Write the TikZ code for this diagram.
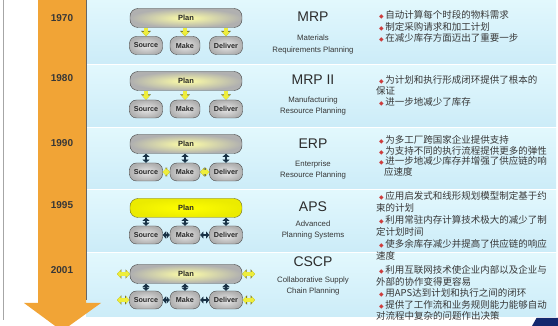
\documentclass[tikz,border=0pt]{standalone}
\usepackage{fontspec}
\setmainfont{Liberation Sans}
\newfontfamily\cjk{Noto Sans CJK SC}
\newfontfamily\djv{DejaVu Sans}
\usetikzlibrary{arrows.meta}
\definecolor{orangebar}{RGB}{241,164,54}
\definecolor{bandtop}{RGB}{226,248,253}
\definecolor{bandbot}{RGB}{204,236,248}
\definecolor{txtgray}{RGB}{55,55,55}
\definecolor{bulletred}{RGB}{205,60,60}
\definecolor{darkconn}{RGB}{25,50,70}
\definecolor{ylw}{RGB}{238,238,60}
\definecolor{ylwline}{RGB}{110,110,40}
\definecolor{logonavy}{RGB}{20,40,110}
\newcommand{\dia}{{\djv\fontsize{6}{6}\selectfont\color{bulletred}◆}}
\begin{document}
\begin{tikzpicture}[x=1pt,y=-1pt,
  band/.style={top color=bandtop,bottom color=bandbot,draw=none},
  year/.style={font=\bfseries\fontsize{10}{10}\selectfont,text=txtgray},
  planbox/.style={rounded corners=8pt,minimum width=112pt,minimum height=19pt,inner sep=0pt,
    inner color=yellow!35!white,outer color=gray!62,draw=gray!55!black,line width=0.4pt,
    font=\fontsize{7.5}{7.5}\selectfont\bfseries,text=black!85},
  planhl/.style={planbox,inner color=yellow,outer color=yellow!92!black,draw=ylwline},
  subbox/.style={rounded corners=7pt,minimum height=18pt,inner sep=0pt,
    inner color=gray!18,outer color=gray!62,draw=gray!55!black,line width=0.4pt,
    font=\fontsize{7.2}{7.2}\selectfont\bfseries,text=black!85},
  title/.style={font=\fontsize{14}{14}\selectfont,text=txtgray!80!black},
  subt/.style={font=\fontsize{7.8}{11.5}\selectfont,align=center,text=txtgray},
  bl/.style={anchor=west,inner sep=0pt,font=\cjk\fontsize{9.5}{12}\selectfont,text=txtgray},
  ydown/.style={draw=ylw,line width=3.4pt,-{Triangle[width=8pt,length=4.5pt]},
    preaction={draw=ylwline,line width=4.6pt,-{Triangle[width=9.6pt,length=5.5pt]}}},
  ydbl/.style={draw=ylw,line width=3.2pt,{Triangle[width=7.5pt,length=3.5pt]}-{Triangle[width=7.5pt,length=3.5pt]},
    preaction={draw=ylwline,line width=4.4pt,{Triangle[width=9pt,length=4.3pt]}-{Triangle[width=9pt,length=4.3pt]}}},
  dkdbl/.style={draw=darkconn,line width=2.8pt,{Triangle[width=7pt,length=3.2pt]}-{Triangle[width=7pt,length=3.2pt]}}
]
\useasboundingbox (0,0) rectangle (558,326);
\clip (0,0) rectangle (558,326);
\fill[white] (0,0) rectangle (558,326);

% bands
\fill[band] (86,0) rectangle (556,63.5);
\fill[band] (86,65.5) rectangle (556,126.5);
\fill[band] (86,128.5) rectangle (556,189);
\fill[band] (86,191) rectangle (556,251.5);
\fill[band] (86,253.5) rectangle (556,317);

% left frame line
\draw[gray!70,line width=0.8pt] (3,0) -- (3,320);

% orange timeline arrow
\fill[orangebar] (38,0) -- (86,0) -- (86,303) -- (101,303) -- (62,331) -- (24,303) -- (38,303) -- cycle;
\draw[black!60,line width=1.4pt] (86.5,0) -- (86.5,300);

% logo fragment
\fill[logonavy] (532,326) -- (536.5,318) -- (558,318) -- (558,326) -- cycle;

% years
\node[year] (y1) at (62,18) {1970};
\node[year] (y2) at (62,78) {1980};
\node[year] (y3) at (62,143) {1990};
\node[year] (y4) at (62,205) {1995};
\node[year] (y5) at (62,270) {2001};

% ---- row 1
\node[planbox] (p1) at (186,18) {Plan};
\node[subbox,minimum width=33pt] (s1) at (146,45.5) {Source};
\node[subbox,minimum width=30pt] (m1) at (185,45.5) {Make};
\node[subbox,minimum width=33pt] (d1) at (226,45.5) {Deliver};
\draw[ydown] (p1.south -| s1.north) -- (s1.north);
\draw[ydown] (p1.south -| m1.north) -- (m1.north);
\draw[ydown] (p1.south -| d1.north) -- (d1.north);

% ---- row 2
\node[planbox] (p2) at (186,81) {Plan};
\node[subbox,minimum width=33pt] (s2) at (146,109) {Source};
\node[subbox,minimum width=30pt] (m2) at (185,109) {Make};
\node[subbox,minimum width=33pt] (d2) at (226,109) {Deliver};
\draw[ydown] (p2.south -| s2.north) -- (s2.north);
\draw[ydown] (p2.south -| m2.north) -- (m2.north);
\draw[ydown] (p2.south -| d2.north) -- (d2.north);

% ---- row 3
\node[planbox] (p3) at (186,144) {Plan};
\node[subbox,minimum width=33pt] (s3) at (146,172) {Source};
\node[subbox,minimum width=30pt] (m3) at (185,172) {Make};
\node[subbox,minimum width=33pt] (d3) at (226,172) {Deliver};
\draw[dkdbl] (p3.south -| s3.north) -- (s3.north);
\draw[dkdbl] (p3.south -| m3.north) -- (m3.north);
\draw[dkdbl] (p3.south -| d3.north) -- (d3.north);
\draw[ydbl] (s3.east) -- (m3.west);
\draw[ydbl] (m3.east) -- (d3.west);

% ---- row 4
\node[planhl] (p4) at (186,208) {Plan};
\node[subbox,minimum width=33pt] (s4) at (146,235) {Source};
\node[subbox,minimum width=30pt] (m4) at (185,235) {Make};
\node[subbox,minimum width=33pt] (d4) at (226,235) {Deliver};
\draw[dkdbl] (p4.south -| s4.north) -- (s4.north);
\draw[dkdbl] (p4.south -| m4.north) -- (m4.north);
\draw[dkdbl] (p4.south -| d4.north) -- (d4.north);
\draw[dkdbl] (s4.east) -- (m4.west);
\draw[dkdbl] (m4.east) -- (d4.west);

% ---- row 5
\node[planbox] (p5) at (186,274) {Plan};
\node[subbox,minimum width=33pt] (s5) at (146,300) {Source};
\node[subbox,minimum width=30pt] (m5) at (185,300) {Make};
\node[subbox,minimum width=33pt] (d5) at (226,300) {Deliver};
\draw[dkdbl] (p5.south -| s5.north) -- (s5.north);
\draw[dkdbl] (p5.south -| m5.north) -- (m5.north);
\draw[dkdbl] (p5.south -| d5.north) -- (d5.north);
\draw[dkdbl] (s5.east) -- (m5.west);
\draw[dkdbl] (m5.east) -- (d5.west);
\coordinate (lp5) at (117,274);
\coordinate (rp5) at (255,274);
\coordinate (ls5) at (117,300);
\coordinate (rd5) at (255,300);
\draw[ydbl] (lp5) -- (p5.west);
\draw[ydbl] (p5.east) -- (rp5);
\draw[ydbl] (ls5) -- (s5.west);
\draw[ydbl] (d5.east) -- (rd5);

% titles
\node[title] (t1) at (313,17) {MRP};
\node[subt] (u1) at (313,44.5) {Materials\\Requirements Planning};
\node[title] (t2) at (313,80) {MRP II};
\node[subt] (u2) at (313,106) {Manufacturing\\Resource Planning};
\node[title] (t3) at (313,144) {ERP};
\node[subt] (u3) at (313,170) {Enterprise\\Resource Planning};
\node[title] (t4) at (313,207) {APS};
\node[subt] (u4) at (313,230) {Advanced\\Planning Systems};
\node[title] (t5) at (313,262) {CSCP};
\node[subt] (u5) at (313,286) {Collaborative Supply\\Chain Planning};

% bullets row 1
\node[bl] (b11) at (379,15) {\dia\,自动计算每个时段的物料需求};
\node[bl] (b12) at (379,26.5) {\dia\,制定采购请求和加工计划};
\node[bl] (b13) at (379,38) {\dia\,在减少库存方面迈出了重要一步};
% row 2
\node[bl] (b21) at (379,80) {\dia\,为计划和执行形成闭环提供了根本的};
\node[bl] (b22) at (376,91) {保证};
\node[bl] (b23) at (379,102) {\dia\,进一步地减少了库存};
% row 3
\node[bl] (b31) at (379,140) {\dia\,为多工厂跨国家企业提供支持};
\node[bl] (b32) at (379,150.5) {\dia\,为支持不同的执行流程提供更多的弹性};
\node[bl] (b33) at (379,161) {\dia\,进一步地减少库存并增强了供应链的响};
\node[bl] (b34) at (384,171.5) {应速度};
% row 4
\node[bl] (b41) at (379,196) {\dia\,应用启发式和线形规划模型制定基于约};
\node[bl] (b42) at (376,208) {束的计划};
\node[bl] (b43) at (379,220) {\dia\,利用常驻内存计算技术极大的减少了制};
\node[bl] (b44) at (376,232) {定计划时间};
\node[bl] (b45) at (379,244) {\dia\,使多余库存减少并提高了供应链的响应};
\node[bl] (b46) at (376,256) {速度};
% row 5
\node[bl] (b51) at (379,270) {\dia\,利用互联网技术使企业内部以及企业与};
\node[bl] (b52) at (376,281.5) {外部的协作变得更容易};
\node[bl] (b53) at (379,293) {\dia\,用APS达到计划和执行之间的闭环};
\node[bl] (b54) at (379,304.5) {\dia\,提供了工作流和业务规则能力能够自动};
\node[bl] (b55) at (376,316) {对流程中复杂的问题作出决策};
\end{tikzpicture}
\end{document}
